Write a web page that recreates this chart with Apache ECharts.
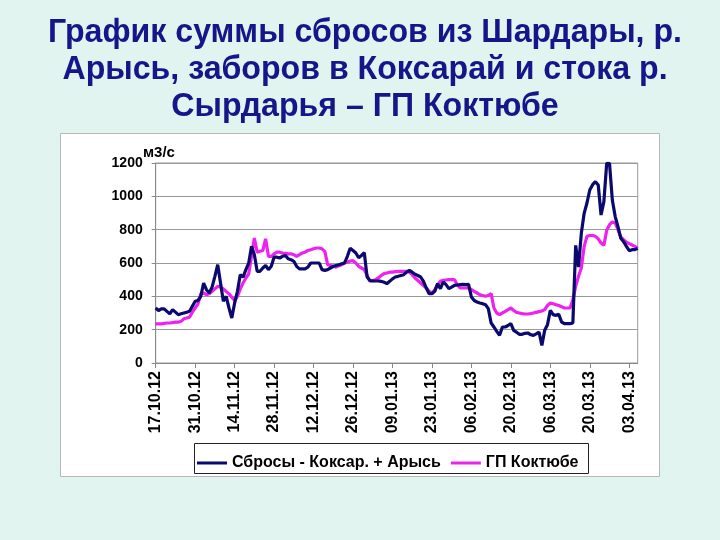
<!DOCTYPE html>
<html>
<head>
<meta charset="utf-8">
<script src="https://cdn.jsdelivr.net/npm/echarts@6/dist/echarts.min.js"></script>
<style>
html,body{margin:0;padding:0;background:#e1f4ef;}
#c{width:720px;height:540px;}
</style>
</head>
<body>
<div id="c"></div>
<script>
// daily dates from 17.10.12 to 06.04.13
const startDate = new Date(2012, 9, 17);
const dayCount = 172;
const categories = [];
for (let i = 0; i < dayCount; i++) {
  const d = new Date(startDate.getFullYear(), startDate.getMonth(), startDate.getDate() + i);
  const dd = String(d.getDate()).padStart(2, '0');
  const mm = String(d.getMonth() + 1).padStart(2, '0');
  const yy = String(d.getFullYear()).slice(2);
  categories.push(dd + '.' + mm + '.' + yy);
}

const titleLines = [
  'График суммы сбросов из Шардары, р.',
  'Арысь, заборов в Коксарай и стока р.',
  'Сырдарья – ГП Коктюбе'
];
const seriesNames = ['Сбросы - Коксар. + Арысь', 'ГП Коктюбе'];
const unitLabel = 'м3/с';

const sbrosy = [
  330,315,325,325,310,295,320,305,290,295,
  300,305,310,340,370,375,400,480,440,420,
  455,520,590,480,370,400,330,270,360,430,
  530,515,560,600,700,650,550,550,570,585,
  560,580,635,635,630,640,645,625,620,610,
  580,565,565,565,575,600,600,600,600,560,
  556,560,570,580,585,590,595,600,640,688,
  675,660,632,645,662,516,495,492,492,492,
  490,485,476,490,505,516,520,525,530,545,
  556,545,532,525,516,490,450,416,416,430,
  476,446,486,470,446,455,466,468,470,472,
  470,472,396,375,366,360,356,350,326,240,
  216,190,166,216,216,225,236,196,185,172,
  172,178,180,170,166,175,186,106,196,230,
  316,290,286,292,246,236,236,236,240,706,
  576,778,898,960,1038,1070,1088,1068,888,968,
  1198,1198,978,880,818,748,728,700,674,680,
  680,688
];

const koktyube = [
  235,235,235,238,240,240,242,245,245,250,
  265,270,275,305,330,355,415,420,410,415,
  430,445,460,455,445,430,415,395,375,400,
  445,480,510,535,640,750,665,670,675,745,
  640,640,655,665,665,660,658,655,655,650,
  640,650,660,665,675,680,685,690,690,685,
  670,590,585,580,575,584,590,600,605,612,
  614,600,580,570,560,525,490,495,500,510,
  525,536,540,545,545,548,550,550,550,550,
  545,530,510,495,480,465,450,430,420,440,
  470,490,496,498,500,500,500,470,450,450,
  450,450,440,430,420,410,405,400,405,416,
  330,300,290,300,310,320,330,315,304,300,
  296,294,294,296,300,304,308,312,320,345,
  360,355,350,345,338,330,330,330,380,460,
  520,570,700,760,765,765,760,745,720,706,
  796,830,846,840,800,756,740,725,716,708,
  700,688
];

const yTicks = [0, 200, 400, 600, 800, 1000, 1200];

const bodyFont = 'Liberation Sans, Arial, sans-serif';

// horizontal squeeze so the title lines get the narrow look of the original
const titleSize = 33;
const cv = document.createElement('canvas').getContext('2d');
cv.font = 'bold ' + titleSize + 'px ' + bodyFont;
const w1 = cv.measureText(titleLines[0]).width;
const titleScale = Math.min(1, 634 / w1);
const titleTops = [16, 53, 90];

const chart = echarts.init(document.getElementById('c'));
chart.setOption({
  backgroundColor: '#e1f4ef',
  animation: false,
  graphic: [
    { type: 'rect', z: -10, shape: { x: 60.5, y: 133.5, width: 599, height: 343 },
      style: { fill: '#ffffff', stroke: '#b8b8b8', lineWidth: 1 } },
    { type: 'rect', z: 5, shape: { x: 194.5, y: 443.5, width: 394, height: 30 },
      style: { fill: 'none', stroke: '#222', lineWidth: 1 } },
    { type: 'text', x: 143, y: 145, z: 10,
      style: { text: unitLabel, font: 'bold 15px ' + bodyFont, fill: '#000' } },
    { type: 'group', x: 365, y: 0, scaleX: titleScale, z: 10,
      children: titleLines.map((t, i) => ({
        type: 'text', x: 0, y: titleTops[i],
        style: { text: t, font: 'bold ' + titleSize + 'px ' + bodyFont, fill: '#16168a',
                 align: 'center', verticalAlign: 'top' }
      })) }
  ],
  legend: {
    data: seriesNames,
    left: 192,
    top: 450,
    itemGap: 10,
    itemWidth: 30,
    itemHeight: 3,
    icon: 'rect',
    textStyle: { fontFamily: bodyFont, fontWeight: 'bold', fontSize: 16, color: '#000' }
  },
  grid: {
    left: 155.7, right: 82.3, top: 163, bottom: 177,
    show: true, borderColor: '#999', borderWidth: 1, backgroundColor: 'transparent'
  },
  xAxis: {
    type: 'category',
    data: categories,
    boundaryGap: false,
    axisLine: { lineStyle: { color: '#888', width: 1 } },
    axisTick: { show: true, interval: 13, length: 5, lineStyle: { color: '#888' } },
    axisLabel: {
      interval: 13, rotate: 90, margin: 8,
      fontFamily: bodyFont, fontWeight: 'bold', fontSize: 16, color: '#000'
    },
    splitLine: { show: false }
  },
  yAxis: {
    type: 'value',
    min: 0, max: 1200, interval: 200,
    axisLine: { show: true, lineStyle: { color: '#888', width: 1 } },
    axisTick: { show: true, length: 4, lineStyle: { color: '#888' } },
    axisLabel: {
      margin: 13,
      fontFamily: bodyFont, fontWeight: 'bold', fontSize: 14, color: '#000',
      formatter: v => yTicks.includes(v) ? String(v) : ''
    },
    splitLine: { show: true, lineStyle: { color: '#999', width: 1 } }
  },
  series: [
    { name: seriesNames[0], type: 'line', data: sbrosy, showSymbol: false, symbol: 'none',
      lineStyle: { color: '#0a0a6e', width: 3.2 }, itemStyle: { color: '#0a0a6e' }, z: 3 },
    { name: seriesNames[1], type: 'line', data: koktyube, showSymbol: false, symbol: 'none',
      lineStyle: { color: '#ee22ee', width: 3.2 }, itemStyle: { color: '#ee22ee' }, z: 2 }
  ]
});
</script>
</body>
</html>
